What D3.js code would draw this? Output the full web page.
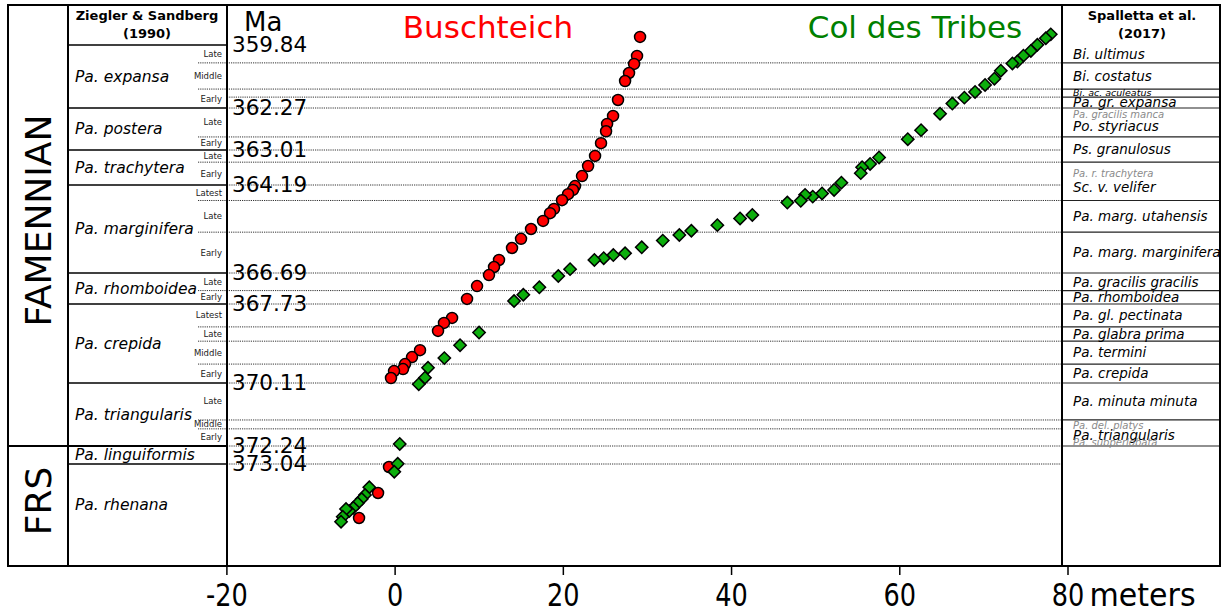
<!DOCTYPE html>
<html>
<head>
<meta charset="utf-8">
<title>Buschteich / Col des Tribes age model</title>
<style>
body { margin: 0; background: white; font-family: "DejaVu Sans", sans-serif; }
svg { display: block; }
.frame { fill: none; stroke: black; stroke-width: 2px; }
.zone-line { stroke: black; stroke-width: 1.5px; }
.grid-line { stroke: #333; stroke-width: 1px; stroke-dasharray: 1.2,1; }
.sp-line { stroke: #222; stroke-width: 1.2px; }
.ghost { fill: #8a8a8a; }
</style>
</head>
<body>
<svg id="chart" width="1227" height="614"></svg>
<script src="https://d3js.org/d3.v7.min.js"></script>
<script>
// ages (Ma) written next to the plot
var ageLabels = [359.84, 362.27, 363.01, 364.19, 366.69, 367.73, 370.11, 372.24, 373.04];
var ageTop = 358.30, ageBottom = 377.12;

// stages
var stageNames = ["FAMENNIAN", "FRS"];
var stageBounds = [358.30, 372.24, 377.12];

// Ziegler & Sandberg (1990)
var zsNames = ["Pa. expansa", "Pa. postera", "Pa. trachytera", "Pa. marginifera", "Pa. rhomboidea",
    "Pa. crepida", "Pa. triangularis", "Pa. linguiformis", "Pa. rhenana"];
var zsBounds = [359.84, 362.27, 363.01, 364.19, 366.69, 367.73, 370.11, 372.24, 373.04, 377.12];
var zsSubNames = [["Late", "Middle", "Early"], ["Late", "Early"], ["Late", "Early"], ["Latest", "Late", "Early"],
    ["Late", "Early"], ["Latest", "Late", "Middle", "Early"], ["Late", "Middle", "Early"], [], []];
var zsSubBounds = [[360.53, 361.54], [362.78], [363.42], [364.63, 365.53], [367.28],
    [368.42, 368.85, 369.54], [371.36, 371.66], [], []];

// Spalletta et al. (2017)
var spNames = ["Bi. ultimus", "Bi. costatus", "Bi. ac. aculeatus", "Pa. gr. expansa", "Po. styriacus",
    "Ps. granulosus", "Sc. v. velifer", "Pa. marg. utahensis", "Pa. marg. marginifera", "Pa. gracilis gracilis",
    "Pa. rhomboidea", "Pa. gl. pectinata", "Pa. glabra prima", "Pa. termini", "Pa. crepida",
    "Pa. minuta minuta", "Pa. triangularis"];
var spBounds = [359.84, 360.53, 361.54, 361.85, 362.27, 362.78, 363.42, 364.63, 365.53, 366.69, 367.28,
    367.73, 368.42, 368.85, 369.54, 370.11, 371.36, 372.24];
var spGhostNames = ["Pa. gracilis manca", "Pa. r. trachytera", "Pa. del. platys", "Pa. subperlobata"];
var spGhostAges = [362.39, 363.79, 371.53, 372.11];

// Buschteich (meters, Ma)
var buschM = [29.18, 28.82, 28.47, 27.87, 27.40, 26.56, 25.97, 25.26, 25.14, 24.54, 23.83, 23.00, 22.28,
    21.45, 21.21, 20.62, 19.90, 18.95, 18.48, 17.65, 16.22, 15.03, 13.96, 12.41, 11.82, 11.22, 9.80, 8.61,
    6.83, 5.87, 5.16, 3.02, 2.07, 1.24, 1.00, -0.07, -0.43, -0.67, -1.97, -4.23];
var buschAge = [359.53, 360.26, 360.57, 360.92, 361.23, 361.96, 362.41, 362.55, 362.68, 362.89, 363.21,
    363.55, 363.89, 364.22, 364.33, 364.45, 364.62, 364.87, 364.99, 365.21, 365.44, 365.72, 365.98, 366.32,
    366.52, 366.76, 367.13, 367.56, 368.15, 368.30, 368.54, 369.12, 369.33, 369.54, 369.69, 369.75, 369.96,
    373.16, 374.20, 375.20];

// Col des Tribes (meters, Ma)
var tribesM = [78.01, 77.42, 76.42, 75.64, 74.76, 74.04, 73.45, 72.07, 71.31, 70.20, 69.01, 67.74, 66.31,
    64.85, 62.59, 61.01, 57.60, 56.53, 55.58, 55.42, 53.12, 52.25, 50.82, 49.71, 48.80, 48.29, 46.69, 42.53,
    41.07, 38.37, 35.28, 33.85, 31.88, 29.38, 27.40, 26.00, 24.86, 23.75, 20.86, 19.46, 17.21, 15.30, 14.20,
    10.04, 7.78, 5.91, 3.97, 3.61, 2.87, 0.61, 0.37, -0.04, -3.01, -3.52, -3.91, -4.39, -4.91, -5.39, -5.78,
    -6.17, -6.37];
var tribesAge = [359.43, 359.58, 359.83, 360.07, 360.25, 360.48, 360.55, 360.83, 361.14, 361.38, 361.65,
    361.87, 362.10, 362.37, 362.66, 362.82, 363.26, 363.48, 363.59, 363.79, 364.11, 364.33, 364.43, 364.52,
    364.47, 364.64, 364.69, 365.04, 365.14, 365.33, 365.49, 365.61, 365.77, 365.96, 366.13, 366.18, 366.27,
    366.32, 366.58, 366.79, 367.17, 367.42, 367.63, 368.59, 368.97, 369.36, 369.65, 369.95, 370.15, 372.17,
    373.03, 373.35, 373.97, 374.28, 374.44, 374.61, 374.79, 374.92, 374.84, 375.15, 375.35];

var xTicks = [-20, 0, 20, 40, 60, 80];

// layout
var frameL = 8, frameR = 1220, frameT = 5, frameB = 566;
var stageR = 68, plotL = 227, plotR = 1062, subL = 198;

var svg = d3.select("#chart");

var x = d3.scaleLinear().domain([-20, 80]).range([226.4, 1067.5]);
// age model is stretched zone by zone
var y = d3.scaleLinear()
    .domain([ageTop].concat(ageLabels, [ageBottom]))
    .range([frameT, 45, 108, 150, 185, 273, 304, 383, 446, 464, frameB]);

// horizontal dotted lines across the plot
var gridAges = zsBounds.slice(1, -1);
zsSubBounds.forEach(function(b) { gridAges = gridAges.concat(b); });
spBounds.slice(1).forEach(function(a) {
    if (gridAges.indexOf(a) < 0) gridAges.push(a);
});
var subAges = [];
zsSubBounds.forEach(function(b) { subAges = subAges.concat(b); });

svg.append("g").selectAll("line")
    .data(gridAges)
    .enter().append("line")
    .attr("class", "grid-line")
    .attr("x1", function(d) { return subAges.indexOf(d) >= 0 ? subL : plotL; })
    .attr("x2", plotR)
    .attr("y1", function(d) { return y(d); })
    .attr("y2", function(d) { return y(d); });

// ZS column
svg.append("g").selectAll("line")
    .data(zsBounds.slice(0, -1))
    .enter().append("line")
    .attr("class", "zone-line")
    .attr("x1", stageR).attr("x2", plotL)
    .attr("y1", function(d) { return y(d); })
    .attr("y2", function(d) { return y(d); });

svg.append("g").selectAll("text")
    .data(zsNames)
    .enter().append("text")
    .attr("x", 75)
    .attr("y", function(d, i) {
        var bot = y(zsBounds[i + 1]);
        if (i == zsNames.length - 1) bot -= 20;
        return (y(zsBounds[i]) + bot) / 2;
    })
    .attr("dy", "0.35em")
    .style("font-size", "15.5px")
    .style("font-style", "italic")
    .text(function(d) { return d; });

var subLabels = [];
zsSubNames.forEach(function(names, i) {
    var b = [zsBounds[i]].concat(zsSubBounds[i], [zsBounds[i + 1]]);
    names.forEach(function(n, j) {
        subLabels.push({ name: n, top: b[j], bottom: b[j + 1] });
    });
});
svg.append("g").selectAll("text")
    .data(subLabels)
    .enter().append("text")
    .attr("x", 222)
    .attr("y", function(d) { return (y(d.top) + y(d.bottom)) / 2; })
    .attr("dy", "0.35em")
    .attr("text-anchor", "end")
    .style("font-size", "8.5px")
    .style("fill", "#222")
    .text(function(d) { return d.name; });

svg.append("text").attr("x", 147).attr("y", 20).attr("text-anchor", "middle")
    .style("font-size", "13px").style("font-weight", "bold").text("Ziegler & Sandberg");
svg.append("text").attr("x", 147).attr("y", 38).attr("text-anchor", "middle")
    .style("font-size", "13px").style("font-weight", "bold").text("(1990)");

// stage column
svg.append("line").attr("class", "zone-line").style("stroke-width", "2px")
    .attr("x1", frameL).attr("x2", plotL)
    .attr("y1", y(stageBounds[1])).attr("y2", y(stageBounds[1]));
svg.append("g").selectAll("text")
    .data(stageNames)
    .enter().append("text")
    .attr("transform", function(d, i) {
        var mid = (y(stageBounds[i]) + y(stageBounds[i + 1])) / 2 - 5;
        return "translate(38," + mid + ") rotate(-90)";
    })
    .attr("text-anchor", "middle")
    .attr("dy", "0.36em")
    .style("font-size", "36px")
    .text(function(d) { return d; });

// Spalletta column
svg.append("g").selectAll("line")
    .data(spBounds.slice(1))
    .enter().append("line")
    .attr("class", "sp-line")
    .attr("x1", plotR).attr("x2", frameR)
    .attr("y1", function(d) { return y(d); })
    .attr("y2", function(d) { return y(d); });

svg.append("g").selectAll("text")
    .data(spNames)
    .enter().append("text")
    .attr("x", 1073)
    .attr("y", function(d, i) {
        var top = y(spBounds[i]), bot = y(spBounds[i + 1]);
        var g = spGhostAges.filter(function(a) { return a > spBounds[i] && a < spBounds[i + 1]; });
        if (g.length) top = y(g[0]);
        return (top + bot) / 2;
    })
    .attr("dy", "0.35em")
    .style("font-size", function(d) { return d == "Bi. ac. aculeatus" ? "9.5px" : "13.5px"; })
    .style("font-style", "italic")
    .text(function(d) { return d; });

svg.append("g").selectAll("text")
    .data(spGhostNames)
    .enter().append("text")
    .attr("class", "ghost")
    .attr("x", 1073)
    .attr("y", function(d, i) { return y(spGhostAges[i]); })
    .attr("dy", "0.35em")
    .style("font-size", "10px")
    .style("font-style", "italic")
    .text(function(d) { return d; });

svg.append("text").attr("x", 1142).attr("y", 20).attr("text-anchor", "middle")
    .style("font-size", "13px").style("font-weight", "bold").text("Spalletta et al.");
svg.append("text").attr("x", 1142).attr("y", 38).attr("text-anchor", "middle")
    .style("font-size", "13px").style("font-weight", "bold").text("(2017)");

// age labels
svg.append("g").selectAll("text")
    .data(ageLabels)
    .enter().append("text")
    .attr("x", 232)
    .attr("y", function(d) { return y(d) + 7; })
    .style("font-size", "21.5px")
    .text(function(d) { return d.toFixed(2); });
svg.append("text").attr("x", 244).attr("y", 31).style("font-size", "26px").text("Ma");

// titles
svg.append("text").attr("x", 488).attr("y", 38).attr("text-anchor", "middle")
    .style("font-size", "31px").style("fill", "#ff0000").text("Buschteich");
svg.append("text").attr("x", 915).attr("y", 38).attr("text-anchor", "middle")
    .style("font-size", "31px").style("fill", "#008000").text("Col des Tribes");

// points
svg.append("g").selectAll("circle")
    .data(buschM)
    .enter().append("circle")
    .attr("cx", function(d) { return x(d); })
    .attr("cy", function(d, i) { return y(buschAge[i]); })
    .attr("r", 5.5)
    .style("fill", "#ff0000")
    .style("stroke", "black")
    .style("stroke-width", "1.5px");

var diamond = d3.symbol().type(d3.symbolSquare).size(76);
svg.append("g").selectAll("path")
    .data(tribesM)
    .enter().append("path")
    .attr("d", diamond)
    .attr("transform", function(d, i) { return "translate(" + x(d) + "," + y(tribesAge[i]) + ") rotate(45)"; })
    .style("fill", "#0cae0c")
    .style("stroke", "black")
    .style("stroke-width", "1.5px");

// frame
svg.append("rect").attr("class", "frame")
    .attr("x", frameL).attr("y", frameT)
    .attr("width", frameR - frameL).attr("height", frameB - frameT);
[stageR, plotL, plotR].forEach(function(v) {
    svg.append("line").attr("class", "zone-line").style("stroke-width", "2px")
        .attr("x1", v).attr("x2", v).attr("y1", frameT).attr("y2", frameB);
});

// x axis
var xAxis = svg.append("g")
    .attr("transform", "translate(0," + frameB + ")")
    .call(d3.axisBottom(x).tickValues(xTicks).tickSize(9).tickFormat(function(d) { return String(d); }));
xAxis.select(".domain").remove();
xAxis.selectAll(".tick line").style("stroke-width", "1.5px");
xAxis.selectAll(".tick text")
    .attr("y", 0).attr("dy", 0)
    .attr("transform", "translate(0,40) scale(0.8,1)")
    .style("font-family", "DejaVu Sans")
    .style("font-size", "32px")
    .style("fill", "black");
svg.append("text")
    .attr("transform", "translate(" + (x(80) + 22) + "," + (frameB + 40) + ") scale(0.94,1)")
    .style("font-size", "32px")
    .text("meters");
</script>
</body>
</html>
